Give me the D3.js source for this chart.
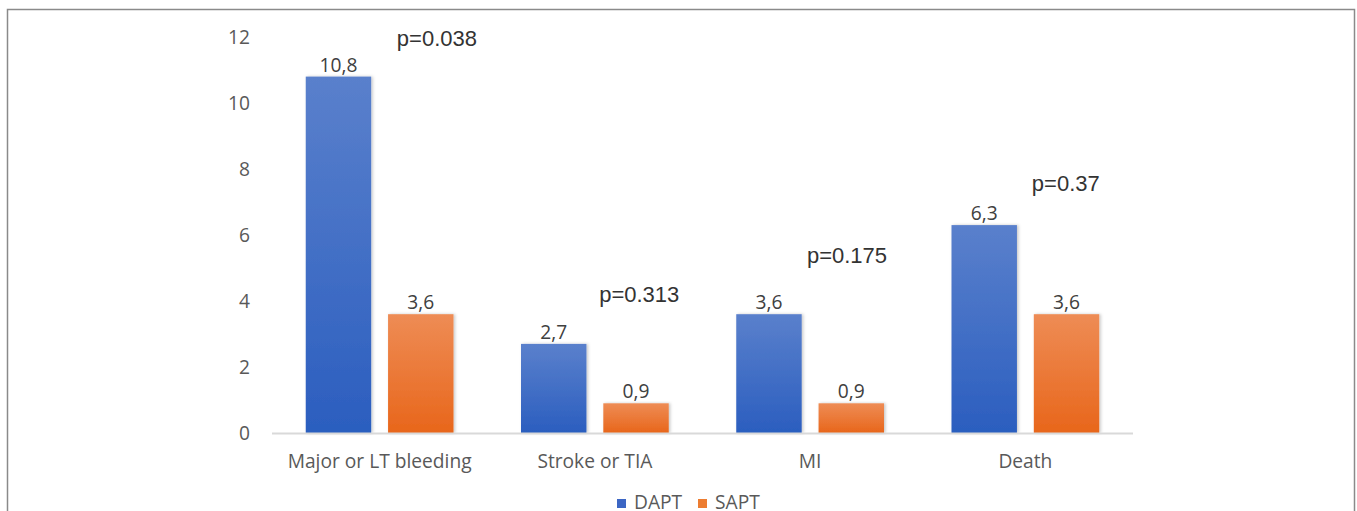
<!DOCTYPE html>
<html>
<head>
<meta charset="utf-8">
<script src="https://cdn.jsdelivr.net/npm/d3@7"></script>
<style>
  html, body { margin: 0; padding: 0; background: #fff; }
  svg { display: block; }
</style>
</head>
<body>
<svg id="chart" width="1357" height="511"></svg>
<script>
// Event rates (%) by outcome, dual vs single antiplatelet therapy
const categories = ["Major or LT bleeding", "Stroke or TIA", "MI", "Death"];
const seriesNames = ["DAPT", "SAPT"];
const daptValues = [10.8, 2.7, 3.6, 6.3];
const saptValues = [3.6, 0.9, 0.9, 3.6];
const yTicks = [0, 2, 4, 6, 8, 10, 12];
// p-value notes: category, horizontal position within the category (0..1), height in axis units
const pLabels = ["p=0.038", "p=0.313", "p=0.175", "p=0.37"];
const pBandPos = [0.58, 0.52, 0.485, 0.53];
const pHeights = [11.95, 4.19, 5.37, 7.56];

const svg = d3.select("#chart");

// outer frame
svg.append("rect")
  .attr("x", 7.5).attr("y", 9.5)
  .attr("width", 1347).attr("height", 520)
  .attr("fill", "none").attr("stroke", "#8a8a8a").attr("stroke-width", 1.5);

const plot = { left: 272, right: 1133, top: 37, bottom: 433 };

const x0 = d3.scaleBand().domain(categories).range([plot.left, plot.right]).paddingInner(0).paddingOuter(0);
const x1 = d3.scaleBand().domain(seriesNames).range([0, x0.bandwidth()]).paddingInner(0.205).paddingOuter(0.41);
const y = d3.scaleLinear().domain([0, 12]).range([plot.bottom, plot.top]);

const defs = svg.append("defs");
function grad(id, top, bottom) {
  const g = defs.append("linearGradient").attr("id", id)
    .attr("x1", 0).attr("y1", 0).attr("x2", 0).attr("y2", 1);
  g.append("stop").attr("offset", "0%").attr("stop-color", top);
  g.append("stop").attr("offset", "100%").attr("stop-color", bottom);
}
grad("gDAPT", "#5a80cc", "#2b5ebf");
grad("gSAPT", "#ee8c55", "#e8661b");
const sh = defs.append("filter").attr("id", "shadow")
  .attr("x", "-10%").attr("y", "-5%").attr("width", "130%").attr("height", "115%");
sh.append("feDropShadow").attr("dx", 1.5).attr("dy", 0).attr("stdDeviation", 1.5)
  .attr("flood-color", "#000").attr("flood-opacity", 0.22);

const colors = { DAPT: "url(#gDAPT)", SAPT: "url(#gSAPT)" };
const legendColors = { DAPT: "#3c66c4", SAPT: "#ed7d31" };
const fontMain = "'Open Sans', Lato, sans-serif";

// size the body font so the longest category label spans about 184px
const probe = svg.append("text").attr("font-family", fontMain).attr("font-size", 20).text(categories[0]);
const probeW = probe.node().getComputedTextLength();
probe.remove();
const fs = probeW > 0 ? Math.round(20 * 184 / probeW * 10) / 10 : 17;

// y axis tick labels (no axis line)
const yAxis = svg.append("g").attr("transform", `translate(${plot.left - 22},0)`)
  .call(d3.axisLeft(y).tickValues(yTicks).tickSize(0).tickPadding(0).tickFormat(d3.format("d")));
yAxis.select(".domain").remove();
yAxis.selectAll("text")
  .attr("font-family", fontMain).attr("font-size", fs).attr("fill", "#595959");

// bars
const rows = categories.map((c, i) => ({
  cat: c,
  vals: [{ s: "DAPT", v: daptValues[i] }, { s: "SAPT", v: saptValues[i] }]
}));

const groups = svg.append("g").selectAll("g").data(rows).join("g")
  .attr("transform", d => `translate(${x0(d.cat)},0)`);

groups.selectAll("rect").data(d => d.vals).join("rect")
  .attr("x", d => x1(d.s))
  .attr("y", d => y(d.v))
  .attr("width", x1.bandwidth())
  .attr("height", d => y(0) - y(d.v))
  .attr("fill", d => colors[d.s])
  .attr("filter", "url(#shadow)");

groups.selectAll("text.val").data(d => d.vals).join("text")
  .attr("class", "val")
  .attr("x", d => x1(d.s) + x1.bandwidth() / 2)
  .attr("y", d => y(d.v) - 5)
  .attr("text-anchor", "middle")
  .attr("font-family", fontMain).attr("font-size", fs).attr("fill", "#404040")
  .text(d => d3.format(".1f")(d.v).replace(".", ","));

// baseline
svg.append("line")
  .attr("x1", plot.left).attr("x2", plot.right)
  .attr("y1", y(0) + 0.5).attr("y2", y(0) + 0.5)
  .attr("stroke", "#d9d9d9").attr("stroke-width", 2);

// category labels
const xAxis = svg.append("g").attr("transform", `translate(0,${y(0)})`)
  .call(d3.axisBottom(x0).tickSize(0).tickPadding(21));
xAxis.select(".domain").remove();
xAxis.selectAll("text")
  .attr("font-family", fontMain).attr("font-size", fs).attr("fill", "#595959");

// p-value annotations
svg.append("g").selectAll("text").data(pLabels).join("text")
  .attr("x", (d, i) => x0(categories[i]) + pBandPos[i] * x0.bandwidth())
  .attr("y", (d, i) => y(pHeights[i]))
  .attr("dy", "0.35em")
  .attr("font-family", "'Liberation Sans', Arial, sans-serif").attr("font-size", 22)
  .attr("fill", "#333")
  .text(d => d);

// legend
const legend = svg.append("g").attr("transform", "translate(617,502)");
const lx = [0, 81];
seriesNames.forEach((s, i) => {
  const g = legend.append("g").attr("transform", `translate(${lx[i]},0)`);
  g.append("rect").attr("x", 0).attr("y", -3).attr("width", 9).attr("height", 9)
    .attr("fill", legendColors[s]);
  g.append("text").attr("x", 17).attr("y", 0).attr("dy", "0.35em")
    .attr("font-family", fontMain).attr("font-size", fs).attr("fill", "#595959")
    .text(s);
});
</script>
</body>
</html>
